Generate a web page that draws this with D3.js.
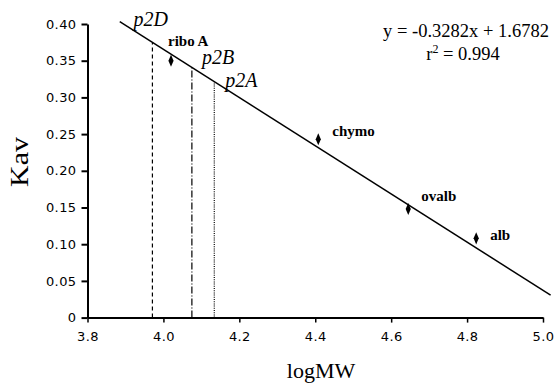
<!DOCTYPE html>
<html>
<head>
<meta charset="utf-8">
<script src="https://cdn.jsdelivr.net/npm/d3@7"></script>
<style>
  body { margin: 0; background: #fff; }
  svg { display: block; }
</style>
</head>
<body>
<script>
// standards used for the calibration
var proteins = ["ribo A", "chymo", "ovalb", "alb"];
var logMW = [4.02, 4.408, 4.645, 4.824];
var kav = [0.350, 0.243, 0.148, 0.108];

// unknowns
var peaks = ["p2D", "p2B", "p2A"];
var peakLogMW = [3.971, 4.075, 4.134];

// linear fit
var slope = -0.3282, intercept = 1.6782;
var fitRange = [3.885, 5.02];

var xTicks = [3.8, 4.0, 4.2, 4.4, 4.6, 4.8, 5.0];
var yTicks = [0, 0.05, 0.10, 0.15, 0.20, 0.25, 0.30, 0.35, 0.40];

var W = 556, H = 383;
var serif = "Liberation Serif, Times New Roman, serif";
var sans = "DejaVu Sans, Verdana, sans-serif";

var svg = d3.select("body").append("svg")
    .attr("width", W).attr("height", H);

var x = d3.scaleLinear().domain([3.8, 5.0]).range([87.5, 543]);
var y = d3.scaleLinear().domain([0, 0.4]).range([317.6, 24]);

// y axis
var yAxis = svg.append("g")
    .attr("transform", "translate(" + x(3.8) + ",0)")
    .call(d3.axisLeft(y).tickValues(yTicks).tickSize(6).tickSizeOuter(0)
      .tickFormat(function(d){ return d === 0 ? "0" : d3.format(".2f")(d); }));
yAxis.select(".domain").attr("stroke-width", 2);
yAxis.selectAll(".tick line").attr("stroke-width", 2);
yAxis.selectAll("text")
    .attr("x", -11)
    .style("font-family", sans)
    .style("font-size", "13px")
    .style("letter-spacing", "0.4px");

// x axis
var xAxis = svg.append("g")
    .attr("transform", "translate(0," + y(0) + ")")
    .call(d3.axisBottom(x).tickValues(xTicks).tickSize(5).tickSizeOuter(0)
      .tickFormat(d3.format(".1f")));
xAxis.select(".domain").attr("stroke-width", 2);
xAxis.selectAll(".tick line").attr("stroke-width", 1.5);
xAxis.selectAll("text")
    .attr("y", 14)
    .style("font-family", sans)
    .style("font-size", "13px")
    .style("letter-spacing", "0.4px");

// fit line
svg.append("line")
    .attr("x1", x(fitRange[0])).attr("y1", y(slope * fitRange[0] + intercept))
    .attr("x2", x(fitRange[1])).attr("y2", y(slope * fitRange[1] + intercept))
    .attr("stroke", "#000").attr("stroke-width", 1.5);

// drop lines for the unknowns
var dashes = ["4,3", "7,2,1,2", "1,1.2"];
peakLogMW.forEach(function(v, i){
  svg.append("line")
      .attr("x1", x(v)).attr("x2", x(v))
      .attr("y1", y(0)).attr("y2", y(slope * v + intercept))
      .attr("stroke", "#000").attr("stroke-width", 1.2)
      .attr("stroke-dasharray", dashes[i]);
});

// peak labels
var peakOffsets = [[-19, -16], [10, -3], [11, 5]];
peakLogMW.forEach(function(v, i){
  svg.append("text")
      .attr("x", x(v) + peakOffsets[i][0])
      .attr("y", y(slope * v + intercept) + peakOffsets[i][1])
      .style("font-family", serif)
      .style("font-style", "italic")
      .style("font-size", "20px")
      .text(peaks[i]);
});

// standards
svg.selectAll(".pt")
    .data(logMW)
    .enter()
    .append("path")
    .attr("d", d3.symbol().type(d3.symbolDiamond).size(32))
    .attr("transform", function(d, i){ return "translate(" + x(d) + "," + y(kav[i]) + ") scale(0.85,1.15)"; })
    .attr("fill", "#000");

var labelOffsets = [[-3, -15], [14, -3], [13, -8], [14, 2]];
svg.selectAll(".lbl")
    .data(logMW)
    .enter()
    .append("text")
    .attr("x", function(d, i){ return x(d) + labelOffsets[i][0]; })
    .attr("y", function(d, i){ return y(kav[i]) + labelOffsets[i][1]; })
    .style("font-family", serif)
    .style("font-weight", "bold")
    .style("font-size", "15px")
    .text(function(d, i){ return proteins[i]; });

// equation
svg.append("text")
    .attr("x", 466).attr("y", 37)
    .attr("text-anchor", "middle")
    .style("font-family", serif)
    .style("font-size", "18.5px")
    .text("y = -0.3282x + 1.6782");

var r2 = svg.append("text")
    .attr("x", 463).attr("y", 60)
    .attr("text-anchor", "middle")
    .style("font-family", serif)
    .style("font-size", "18.5px");
r2.append("tspan").text("r");
r2.append("tspan").attr("dy", -7).style("font-size", "12px").text("2");
r2.append("tspan").attr("dy", 7).text(" = 0.994");

// axis titles
svg.append("text")
    .attr("x", 321).attr("y", 378)
    .attr("text-anchor", "middle")
    .style("font-family", serif)
    .style("font-size", "22px")
    .text("logMW");

svg.append("text")
    .attr("transform", "translate(28,162) rotate(-90)")
    .attr("text-anchor", "middle")
    .attr("textLength", 50)
    .attr("lengthAdjust", "spacingAndGlyphs")
    .style("font-family", serif)
    .style("font-size", "26px")
    .text("Kav");
</script>
</body>
</html>
